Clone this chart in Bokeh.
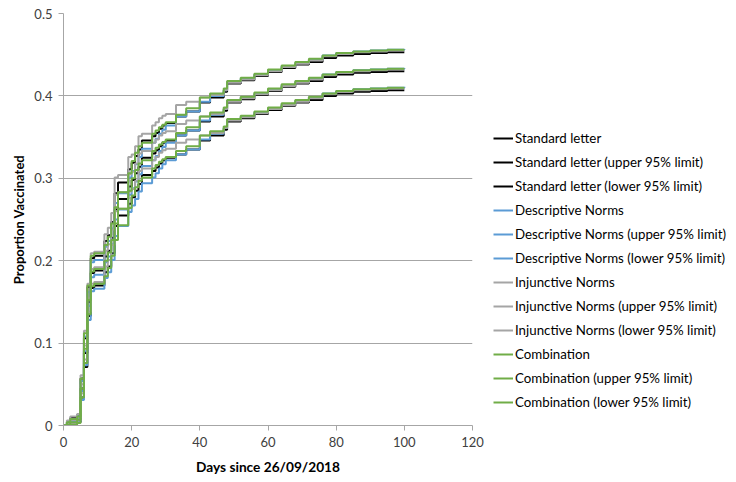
from bokeh.plotting import figure
from bokeh.models import Range1d, Legend, LegendItem, FixedTicker, CustomJSTickFormatter
from bokeh.embed import file_html
from bokeh.resources import INLINE

days = [0, 1, 2, 4, 5, 6, 7, 8, 9, 12, 13, 14, 15, 16, 19, 20, 21, 22, 23, 26, 27, 28, 29, 30,
        33, 36, 40, 43, 47, 48, 52, 56, 60, 64, 68, 72, 76, 80, 85, 90, 95, 100]

standard = [0, 0.002, 0.005, 0.008, 0.045, 0.088, 0.150, 0.185, 0.188, 0.205, 0.212, 0.228, 0.262, 0.275,
            0.290, 0.298, 0.306, 0.314, 0.325, 0.330, 0.334, 0.339, 0.343, 0.346, 0.352, 0.358, 0.369,
            0.375, 0.382, 0.392, 0.396, 0.401, 0.406, 0.411, 0.415, 0.418, 0.423, 0.426, 0.428, 0.429, 0.430, 0.430]
standard_up = [0, 0.004, 0.009, 0.013, 0.057, 0.106, 0.168, 0.203, 0.206, 0.224, 0.231, 0.247, 0.282, 0.295,
               0.311, 0.319, 0.327, 0.335, 0.346, 0.351, 0.355, 0.360, 0.364, 0.367, 0.375, 0.381, 0.392,
               0.398, 0.405, 0.415, 0.419, 0.424, 0.429, 0.434, 0.438, 0.441, 0.446, 0.449, 0.451, 0.452, 0.453, 0.453]
standard_lo = [0, 0.000, 0.002, 0.004, 0.034, 0.071, 0.133, 0.167, 0.170, 0.186, 0.193, 0.209, 0.242, 0.255,
               0.269, 0.277, 0.285, 0.293, 0.304, 0.309, 0.313, 0.318, 0.322, 0.325, 0.329, 0.335, 0.346,
               0.352, 0.359, 0.369, 0.373, 0.378, 0.383, 0.388, 0.392, 0.395, 0.400, 0.403, 0.405, 0.406, 0.407, 0.407]

descriptive = [0, 0.002, 0.005, 0.009, 0.042, 0.090, 0.145, 0.180, 0.183, 0.198, 0.205, 0.220, 0.250, 0.262,
               0.280, 0.288, 0.296, 0.305, 0.315, 0.322, 0.327, 0.333, 0.338, 0.343, 0.352, 0.358, 0.370,
               0.377, 0.384, 0.394, 0.398, 0.403, 0.408, 0.413, 0.417, 0.421, 0.426, 0.429, 0.431, 0.432, 0.433, 0.434]
descriptive_up = [0, 0.004, 0.008, 0.013, 0.054, 0.108, 0.162, 0.198, 0.201, 0.217, 0.224, 0.239, 0.270, 0.282,
                  0.301, 0.309, 0.317, 0.326, 0.336, 0.343, 0.348, 0.354, 0.359, 0.364, 0.375, 0.381, 0.393,
                  0.400, 0.407, 0.417, 0.421, 0.426, 0.431, 0.436, 0.440, 0.444, 0.449, 0.452, 0.454, 0.455, 0.456, 0.457]
descriptive_lo = [0, 0.000, 0.002, 0.005, 0.031, 0.073, 0.128, 0.163, 0.166, 0.179, 0.186, 0.201, 0.230, 0.242,
                  0.259, 0.267, 0.275, 0.284, 0.294, 0.301, 0.306, 0.312, 0.317, 0.322, 0.329, 0.335, 0.347,
                  0.354, 0.361, 0.371, 0.375, 0.380, 0.385, 0.390, 0.394, 0.398, 0.403, 0.406, 0.408, 0.409, 0.410, 0.411]

injunctive = [0, 0.003, 0.007, 0.010, 0.050, 0.097, 0.155, 0.190, 0.192, 0.212, 0.220, 0.238, 0.280, 0.283,
              0.305, 0.308, 0.318, 0.330, 0.333, 0.343, 0.347, 0.352, 0.355, 0.357, 0.366, 0.370, 0.375,
              0.378, 0.384, 0.393, 0.397, 0.402, 0.407, 0.412, 0.416, 0.420, 0.425, 0.428, 0.430, 0.431, 0.432, 0.432]
injunctive_up = [0, 0.006, 0.011, 0.014, 0.061, 0.115, 0.172, 0.209, 0.211, 0.232, 0.240, 0.258, 0.301, 0.304,
                 0.326, 0.329, 0.339, 0.351, 0.354, 0.364, 0.368, 0.373, 0.376, 0.378, 0.389, 0.393, 0.398,
                 0.401, 0.407, 0.416, 0.420, 0.425, 0.430, 0.435, 0.439, 0.443, 0.448, 0.451, 0.453, 0.454, 0.455, 0.455]
injunctive_lo = [0, 0.001, 0.003, 0.006, 0.039, 0.080, 0.138, 0.172, 0.174, 0.193, 0.201, 0.219, 0.260, 0.263,
                 0.284, 0.287, 0.297, 0.309, 0.312, 0.322, 0.326, 0.331, 0.334, 0.336, 0.343, 0.347, 0.352,
                 0.355, 0.361, 0.370, 0.374, 0.379, 0.384, 0.389, 0.393, 0.397, 0.402, 0.405, 0.407, 0.408, 0.409, 0.409]

combination = [0, 0.001, 0.004, 0.007, 0.045, 0.093, 0.152, 0.187, 0.190, 0.200, 0.210, 0.225, 0.245, 0.263,
               0.285, 0.300, 0.310, 0.318, 0.322, 0.333, 0.337, 0.341, 0.344, 0.347, 0.355, 0.362, 0.375,
               0.380, 0.386, 0.395, 0.399, 0.404, 0.409, 0.414, 0.418, 0.422, 0.426, 0.429, 0.431, 0.432, 0.433, 0.433]
combination_up = [0, 0.004, 0.008, 0.011, 0.057, 0.112, 0.170, 0.206, 0.209, 0.219, 0.229, 0.245, 0.265, 0.283,
                  0.306, 0.321, 0.331, 0.339, 0.343, 0.354, 0.358, 0.362, 0.365, 0.368, 0.377, 0.385, 0.398,
                  0.403, 0.409, 0.418, 0.422, 0.427, 0.432, 0.437, 0.441, 0.445, 0.449, 0.452, 0.454, 0.455, 0.456, 0.456]
combination_lo = [0, 0.000, 0.001, 0.003, 0.034, 0.076, 0.135, 0.169, 0.172, 0.181, 0.191, 0.206, 0.225, 0.243,
                  0.264, 0.279, 0.289, 0.297, 0.301, 0.312, 0.316, 0.320, 0.323, 0.326, 0.333, 0.339, 0.352,
                  0.357, 0.363, 0.372, 0.376, 0.381, 0.386, 0.391, 0.395, 0.399, 0.403, 0.406, 0.408, 0.409, 0.410, 0.410]

series = [
    ("Standard letter", standard, "#000000"),
    ("Standard letter (upper 95% limit)", standard_up, "#000000"),
    ("Standard letter (lower 95% limit)", standard_lo, "#000000"),
    ("Descriptive Norms", descriptive, "#5B9BD5"),
    ("Descriptive Norms (upper 95% limit)", descriptive_up, "#5B9BD5"),
    ("Descriptive Norms (lower 95% limit)", descriptive_lo, "#5B9BD5"),
    ("Injunctive Norms", injunctive, "#A5A5A5"),
    ("Injunctive Norms (upper 95% limit)", injunctive_up, "#A5A5A5"),
    ("Injunctive Norms (lower 95% limit)", injunctive_lo, "#A5A5A5"),
    ("Combination", combination, "#70AD47"),
    ("Combination (upper 95% limit)", combination_up, "#70AD47"),
    ("Combination (lower 95% limit)", combination_lo, "#70AD47"),
]

x_ticks = [0, 20, 40, 60, 80, 100, 120]
y_ticks = [0, 0.1, 0.2, 0.3, 0.4, 0.5]

p = figure(frame_width=409, frame_height=412, output_backend="svg", toolbar_location=None,
           x_range=Range1d(0, 120), y_range=Range1d(0, 0.5),
           min_border_left=63, min_border_right=264, min_border_top=13, min_border_bottom=57)
p.outline_line_color = None
p.background_fill_color = "white"

items = []
for name, vals, col in series:
    r = p.step(days, vals, mode="after", line_color=col, line_width=2)
    items.append(LegendItem(label=name, renderers=[r]))

FONT = "Lato"
grid_col = "#a6a6a6"

p.xgrid.visible = False
p.ygrid.ticker = FixedTicker(ticks=y_ticks)
p.ygrid.grid_line_color = grid_col
p.ygrid.grid_line_width = 1

for ax in (p.xaxis[0], p.yaxis[0]):
    ax.axis_line_color = grid_col
    ax.major_tick_line_color = grid_col
    ax.major_tick_out = 5
    ax.major_tick_in = 0
    ax.minor_tick_line_color = None
    ax.major_label_text_font = FONT
    ax.major_label_text_font_size = "13px"
    ax.major_label_text_color = "#404040"
    ax.axis_label_text_font = FONT
    ax.axis_label_text_font_style = "bold"
    ax.axis_label_text_color = "#000000"

p.xaxis.axis_label_text_font_size = "13.7px"
p.yaxis.axis_label_text_font_size = "13px"
p.xaxis.ticker = FixedTicker(ticks=x_ticks)
p.yaxis.ticker = FixedTicker(ticks=y_ticks)
p.yaxis.formatter = CustomJSTickFormatter(code="return tick == 0 ? '0' : tick.toFixed(1);")
p.xaxis.axis_label = "Days since 26/09/2018"
p.yaxis.axis_label = "Proportion Vaccinated"
p.xaxis.major_label_standoff = 6
p.yaxis.major_label_standoff = 6
p.xaxis.axis_label_standoff = 8
p.yaxis.axis_label_standoff = 4

legend = Legend(items=items, location=(21, 13), padding=0, margin=0,
                spacing=4, glyph_width=20, glyph_height=20, label_height=20,
                label_standoff=2, label_text_font=FONT, label_text_font_size="13.3px",
                label_text_color="#000000", border_line_color=None,
                background_fill_alpha=0)
p.add_layout(legend, "right")

open("out.html", "w").write(file_html(p, INLINE))
